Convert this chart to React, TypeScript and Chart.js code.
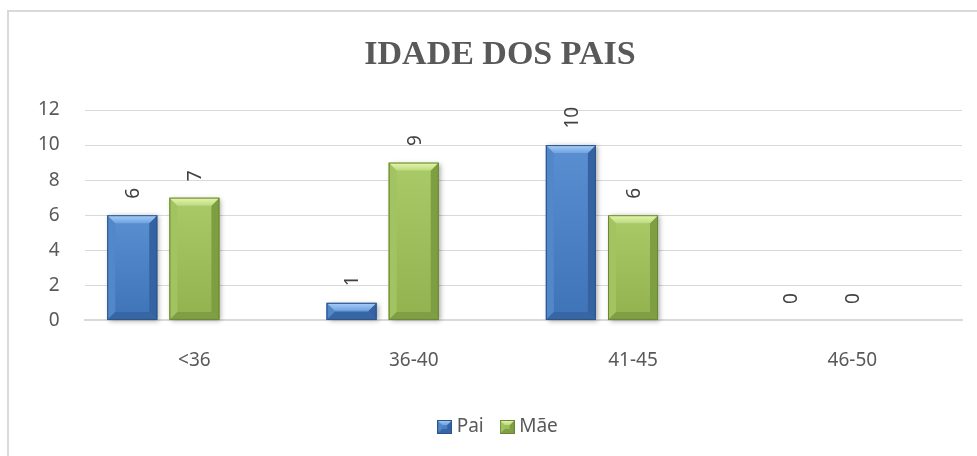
import React, { useEffect, useRef } from "react";
import { Chart, registerables } from "chart.js";

Chart.register(...registerables);

const tituloGrafico = "IDADE DOS PAIS";
const categorias = ["<36", "36-40", "41-45", "46-50"];
const rotulosSerie = ["Pai", "Mãe"];
const pai = [6, 1, 10, 0];
const mae = [7, 9, 6, 0];
const serieVazia: (number | null)[] = [null, null, null, null];
const eixoYMin = 0;
const eixoYMax = 12;
const eixoYPasso = 2;

const FONT = "'Noto Sans', 'Open Sans', sans-serif";
const TEXT = "#595959";

type Pal = {
  base: string;
  body: [string, string];
  top: [string, string];
  left: string;
  right: string;
  bottom: string;
  edge: string;
};

const PALETTES: Pal[] = [
  {
    base: "#4A7EC4",
    body: ["#5A8FD2", "#3F73B8"],
    top: ["#A8CEF7", "#6FA3E2"],
    left: "#5287CA",
    right: "#3563A2",
    bottom: "#3766A5",
    edge: "#2D5486",
  },
  {
    base: "#9BBB59",
    body: ["#AACA68", "#92B24F"],
    top: ["#E6F8AC", "#BDD982"],
    left: "#A3C360",
    right: "#7E9E42",
    bottom: "#809F44",
    edge: "#6A8638",
  },
];

function drawBevel(ctx: CanvasRenderingContext2D, l: number, t: number, r: number, b: number, pal: Pal, bvMax: number) {
  const w = r - l;
  const h = b - t;
  if (w <= 0 || h <= 0) return;
  const bv = Math.min(bvMax, h / 2, w / 2);
  const g = ctx.createLinearGradient(0, t, 0, b);
  g.addColorStop(0, pal.body[0]);
  g.addColorStop(1, pal.body[1]);
  ctx.fillStyle = g;
  ctx.fillRect(l, t, w, h);
  ctx.fillStyle = pal.left;
  ctx.beginPath();
  ctx.moveTo(l, t);
  ctx.lineTo(l + bv, t + bv);
  ctx.lineTo(l + bv, b - bv);
  ctx.lineTo(l, b);
  ctx.closePath();
  ctx.fill();
  ctx.fillStyle = pal.right;
  ctx.beginPath();
  ctx.moveTo(r, t);
  ctx.lineTo(r - bv, t + bv);
  ctx.lineTo(r - bv, b - bv);
  ctx.lineTo(r, b);
  ctx.closePath();
  ctx.fill();
  ctx.fillStyle = pal.bottom;
  ctx.beginPath();
  ctx.moveTo(l, b);
  ctx.lineTo(l + bv, b - bv);
  ctx.lineTo(r - bv, b - bv);
  ctx.lineTo(r, b);
  ctx.closePath();
  ctx.fill();
  const gt = ctx.createLinearGradient(0, t, 0, t + bv);
  gt.addColorStop(0, pal.top[0]);
  gt.addColorStop(1, pal.top[1]);
  ctx.fillStyle = gt;
  ctx.beginPath();
  ctx.moveTo(l, t);
  ctx.lineTo(r, t);
  ctx.lineTo(r - bv, t + bv);
  ctx.lineTo(l + bv, t + bv);
  ctx.closePath();
  ctx.fill();
  ctx.strokeStyle = pal.edge;
  ctx.lineWidth = 1;
  ctx.strokeRect(l + 0.5, t + 0.5, w - 1, h - 1);
}

const bevelPlugin = {
  id: "bevel",
  beforeDatasetsDraw(chart: any) {
    const ctx = chart.ctx as CanvasRenderingContext2D;
    chart.data.datasets.forEach((ds: any, di: number) => {
      if (!PALETTES[di]) return;
      const meta = chart.getDatasetMeta(di);
      meta.data.forEach((el: any, i: number) => {
        const v = ds.data[i];
        if (v == null || v === 0) return;
        const p = el.getProps(["x", "y", "base", "width"], true);
        const l = p.x - p.width / 2;
        const t = Math.min(p.y, p.base);
        const b = Math.max(p.y, p.base);
        ctx.save();
        ctx.shadowColor = "rgba(0,0,0,0.35)";
        ctx.shadowBlur = 5;
        ctx.shadowOffsetX = 2;
        ctx.shadowOffsetY = 1;
        ctx.fillStyle = "#ffffff";
        ctx.fillRect(l, t, p.width, b - t);
        ctx.restore();
      });
    });
  },
  afterDatasetsDraw(chart: any) {
    const ctx = chart.ctx as CanvasRenderingContext2D;
    chart.data.datasets.forEach((ds: any, di: number) => {
      const pal = PALETTES[di];
      if (!pal) return;
      const meta = chart.getDatasetMeta(di);
      meta.data.forEach((el: any, i: number) => {
        const v = ds.data[i];
        if (v == null) return;
        const p = el.getProps(["x", "y", "base", "width"], true);
        const l = p.x - p.width / 2;
        const r = p.x + p.width / 2;
        const t = Math.min(p.y, p.base);
        const b = Math.max(p.y, p.base);
        ctx.save();
        if (v !== 0) drawBevel(ctx, l, t, r, b, pal, 8);
        ctx.translate(p.x + 1.5, p.y - 16.5);
        ctx.rotate(-Math.PI / 2);
        ctx.font = `19px ${FONT}`;
        ctx.fillStyle = "#404040";
        ctx.textAlign = "left";
        ctx.textBaseline = "middle";
        ctx.fillText(String(v), 0, 0);
        ctx.restore();
      });
    });
  },
};

function makeMarker(pal: Pal): HTMLCanvasElement {
  const c = document.createElement("canvas");
  c.width = 15;
  c.height = 14;
  const cx = c.getContext("2d")!;
  drawBevel(cx, 0, 0, 15, 14, pal, 5);
  return c;
}

export default function App() {
  const ref = useRef<HTMLCanvasElement | null>(null);

  useEffect(() => {
    if (!ref.current) return;
    const markers = PALETTES.map(makeMarker);
    const chart = new Chart(ref.current, {
      type: "bar",
      data: {
        labels: categorias,
        datasets: [
          { label: rotulosSerie[0], data: pai, backgroundColor: PALETTES[0].base, borderWidth: 0 },
          { label: rotulosSerie[1], data: mae, backgroundColor: PALETTES[1].base, borderWidth: 0 },
          { label: "", data: serieVazia as any, backgroundColor: "rgba(0,0,0,0)", borderWidth: 0 },
        ],
      },
      options: {
        responsive: false,
        animation: false,
        devicePixelRatio: 1,
        categoryPercentage: 0.85,
        barPercentage: 0.805,
        layout: { padding: { left: 29, right: 29, top: 0, bottom: 9.5 } },
        scales: {
          x: {
            grid: { display: false, drawTicks: false },
            border: { display: true, color: "#D9D9D9", width: 2 },
            ticks: { color: TEXT, font: { family: FONT, size: 19 }, padding: 28.6 },
            afterFit: (scale: any) => {
              scale.height -= 3.9;
            },
          },
          y: {
            min: eixoYMin,
            max: eixoYMax,
            grid: { color: "#D9D9D9", lineWidth: 1, drawTicks: false },
            border: { display: false },
            ticks: { stepSize: eixoYPasso, color: TEXT, font: { family: FONT, size: 19 }, padding: 25 },
            afterFit: (scale: any) => {
              scale.width -= 25;
            },
          },
        },
        plugins: {
          title: {
            display: true,
            text: tituloGrafico,
            color: TEXT,
            font: { family: "'Liberation Serif', 'DejaVu Serif', serif", size: 34, weight: "bold", lineHeight: 1.2 },
            padding: { top: 23, bottom: 34.2 },
          },
          legend: {
            display: true,
            position: "bottom",
            labels: {
              color: TEXT,
              font: { family: FONT, size: 19 },
              usePointStyle: true,
              pointStyleWidth: 5,
              padding: 21,
              generateLabels: (c: any) => {
                const items = (Chart as any).defaults.plugins.legend.labels.generateLabels(c);
                return items
                  .filter((it: any) => it.datasetIndex < 2)
                  .map((it: any) => ({ ...it, pointStyle: markers[it.datasetIndex] }));
              },
            },
          },
          tooltip: { enabled: false },
        },
      } as any,
      plugins: [bevelPlugin],
    });
    return () => chart.destroy();
  }, []);

  return (
    <div style={{ position: "fixed", left: 0, top: 0, width: 977, height: 456, overflow: "hidden", background: "#fff" }}>
      <div
        style={{
          position: "absolute",
          left: 7,
          top: 10,
          width: 1000,
          height: 500,
          borderLeft: "2px solid #D9D9D9",
          borderTop: "2px solid #D9D9D9",
          boxSizing: "border-box",
        }}
      />
      <canvas ref={ref} width={982} height={444} style={{ position: "absolute", left: 9, top: 12, width: 982, height: 444 }} />
    </div>
  );
}
